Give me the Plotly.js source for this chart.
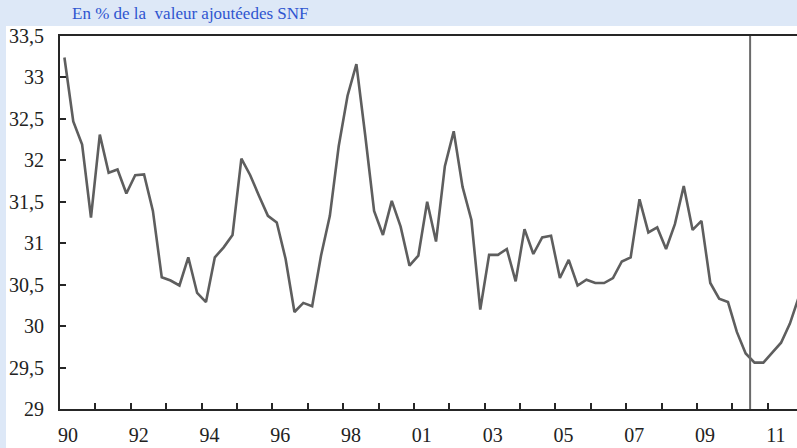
<!DOCTYPE html>
<html>
<head>
<meta charset="utf-8">
<script src="https://cdn.plot.ly/plotly-3.0.1.min.js"></script>
<style>
  html, body { margin: 0; padding: 0; overflow: hidden; background: #dde8f7; }
  #chart { width: 797px; height: 448px; }
</style>
</head>
<body>
<div id="chart"></div>
<script>
// Quarterly values, 1990 Q1 onwards (% of value added, SNF)
const values = [
  33.24, 32.47, 32.19, 31.31, 32.31, 31.85, 31.89, 31.60,
  31.82, 31.83, 31.39, 30.59, 30.55, 30.49, 30.83, 30.40,
  30.29, 30.83, 30.95, 31.10, 32.02, 31.82, 31.57, 31.33,
  31.25, 30.81, 30.17, 30.28, 30.24, 30.85, 31.33, 32.17,
  32.78, 33.16, 32.30, 31.39, 31.10, 31.51, 31.20, 30.73,
  30.85, 31.50, 31.02, 31.93, 32.35, 31.68, 31.28, 30.20,
  30.86, 30.86, 30.93, 30.54, 31.17, 30.87, 31.07, 31.09,
  30.58, 30.80, 30.49, 30.56, 30.52, 30.52, 30.58, 30.78,
  30.83, 31.53, 31.13, 31.19, 30.93, 31.23, 31.69, 31.16,
  31.27, 30.52, 30.33, 30.29, 29.93, 29.67, 29.56, 29.56,
  29.68, 29.80, 30.03, 30.35
];
const xTickLabels = ["90", "92", "94", "96", "98", "01", "03", "05", "07", "09", "11"];
const yTickValues = [29, 29.5, 30, 30.5, 31, 31.5, 32, 32.5, 33, 33.5];
const yTickLabels = ["29", "29,5", "30", "30,5", "31", "31,5", "32", "32,5", "33", "33,5"];
const titleText = "En % de la  valeur ajoutéedes SNF";
const forecastStart = 78; // quarter boundary of the vertical marker

const xs = values.map((v, i) => i + 0.5);
const labelPos = xTickLabels.map((t, i) => 0.9 + 8 * i);
const yearBounds = [];
for (let q = 4; q <= 80; q += 4) yearBounds.push(q);

const fontFam = "serif";

const trace = {
  x: xs, y: values, type: "scatter", mode: "lines",
  line: { color: "#5e5e5e", width: 2.6 },
  hoverinfo: "skip", showlegend: false
};

const layout = {
  width: 797, height: 448,
  margin: { l: 60, r: 0, t: 36, b: 39 },
  paper_bgcolor: "#dde8f7",
  plot_bgcolor: "#ffffff",
  showlegend: false,
  font: { family: fontFam },
  xaxis: {
    range: [0, 83.3], fixedrange: true,
    showgrid: false, zeroline: false,
    showline: true, linecolor: "#262626", linewidth: 2, mirror: true,
    tickmode: "array", tickvals: labelPos, ticktext: xTickLabels,
    ticks: "", ticklabelstandoff: 7,
    tickfont: { family: fontFam, size: 20, color: "#222" },
    minor: { tickmode: "array", tickvals: yearBounds, ticks: "inside", ticklen: 6, tickwidth: 1.6, tickcolor: "#262626", showgrid: false }
  },
  yaxis: {
    range: [29, 33.5], fixedrange: true,
    showgrid: false, zeroline: false,
    showline: true, linecolor: "#262626", linewidth: 2, mirror: false,
    tickmode: "array", tickvals: yTickValues, ticktext: yTickLabels,
    ticks: "inside", ticklen: 6, tickwidth: 1.6, tickcolor: "#262626",
    ticklabelstandoff: 10,
    tickfont: { family: fontFam, size: 20, color: "#222" }
  },
  shapes: [
    { type: "rect", xref: "paper", yref: "paper", layer: "below",
      x0: -0.0733, x1: 1.01, y0: -0.11, y1: 1.0268,
      fillcolor: "#ffffff", line: { width: 0 } },
    { type: "line", xref: "x", yref: "y", x0: forecastStart, x1: forecastStart, y0: 29, y1: 33.5,
      line: { color: "#6a6a6a", width: 2 } }
  ],
  annotations: [
    { text: titleText, xref: "paper", yref: "paper", x: 0.0136, y: 1.059,
      xanchor: "left", yanchor: "middle", showarrow: false,
      font: { family: fontFam, size: 17, color: "#2f55d0" } }
  ]
};

Plotly.newPlot("chart", [trace], layout, { displayModeBar: false });
</script>
</body>
</html>
